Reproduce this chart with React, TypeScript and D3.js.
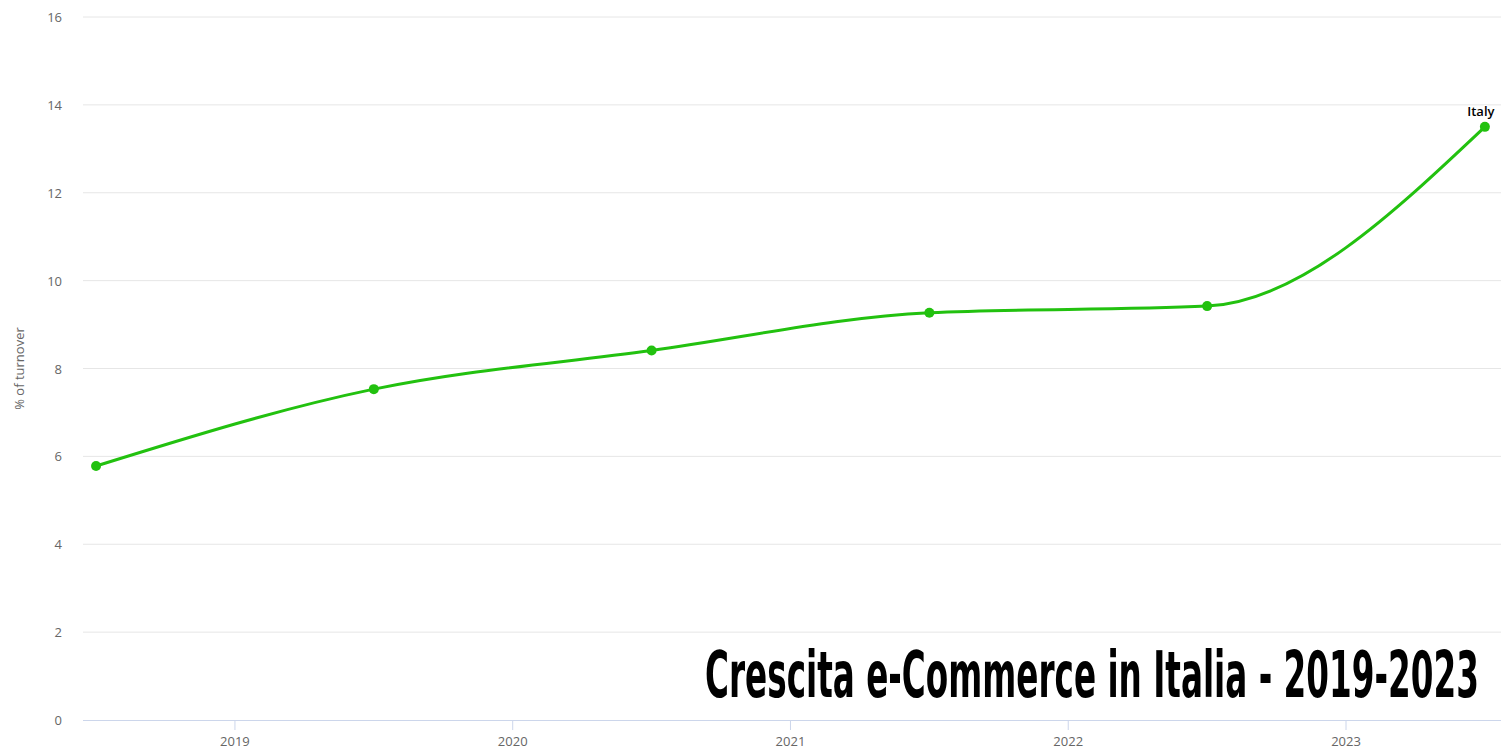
import React, { useLayoutEffect, useRef, useState } from "react";
import * as d3 from "d3";

const years = [2018.5, 2019.5, 2020.5, 2021.5, 2022.5, 2023.5];
const values = [5.78, 7.53, 8.41, 9.27, 9.42, 13.5];
const xTicks = [2019, 2020, 2021, 2022, 2023];
const yTicks = [0, 2, 4, 6, 8, 10, 12, 14, 16];
const seriesName = "Italy";
const title = "Crescita e-Commerce in Italia - 2019-2023";
const yTitle = "% of turnover";

export default function App() {
  const W = 1501, H = 749;
  const left = 83, right = 1501, top = 17, bottom = 720;
  const x = d3.scaleLinear().domain([2018.453, 2023.558]).range([left, right]);
  const y = d3.scaleLinear().domain([0, 16]).range([bottom, top]);
  const line = d3
    .line<number>()
    .x((_, i) => x(years[i]))
    .y((v) => y(v))
    .curve(d3.curveMonotoneX);
  const font = "'Open Sans', 'DejaVu Sans', sans-serif";
  const titleRef = useRef<SVGTextElement>(null);
  const [sx, setSx] = useState(1);
  const titleWidth = 774;
  useLayoutEffect(() => {
    if (titleRef.current) {
      const w = titleRef.current.getComputedTextLength();
      if (w > 0) setSx(titleWidth / w);
    }
  }, []);
  return (
    <svg width={W} height={H} style={{ position: "absolute", left: 0, top: 0, background: "#fff" }}>
      {yTicks.map((t) =>
        t === 0 ? null : (
          <line key={t} x1={left} x2={right} y1={y(t)} y2={y(t)} stroke="#e6e6e6" strokeWidth={1} />
        )
      )}
      {yTicks.map((t) => (
        <text key={"l" + t} x={62} y={y(t) + 5} textAnchor="end" fontSize={13} fill="#666" fontFamily={font}>
          {t}
        </text>
      ))}
      <line x1={left} x2={right} y1={bottom + 0.5} y2={bottom + 0.5} stroke="#ccd6eb" strokeWidth={1} />
      {xTicks.map((t) => (
        <g key={t}>
          <line x1={x(t)} x2={x(t)} y1={bottom} y2={bottom + 10} stroke="#ccd6eb" strokeWidth={1} />
          <text x={x(t)} y={746} textAnchor="middle" fontSize={13} fill="#666" fontFamily={font}>
            {t}
          </text>
        </g>
      ))}
      <text
        transform={`translate(24, ${(top + bottom) / 2}) rotate(-90)`}
        textAnchor="middle"
        fontSize={13}
        fill="#666"
        fontFamily={font}
      >
        {yTitle}
      </text>
      <path d={line(values) || ""} fill="none" stroke="#22c10f" strokeWidth={3} strokeLinejoin="round" strokeLinecap="round" />
      {values.map((v, i) => (
        <circle key={i} cx={x(years[i])} cy={y(v)} r={5} fill="#22c10f" />
      ))}
      <text
        x={x(years[years.length - 1]) - 4}
        y={y(values[values.length - 1]) - 11}
        textAnchor="middle"
        fontSize={13}
        fontWeight={600}
        fill="#000"
        stroke="#fff"
        strokeWidth={2}
        paintOrder="stroke"
        fontFamily={font}
      >
        {seriesName}
      </text>
      <g transform={`translate(705, 697) scale(${sx}, 1)`}>
        <text
          ref={titleRef}
          x={0}
          y={0}
          fontSize={64}
          fontWeight="bold"
          fill="#000"
          fontFamily="'Liberation Sans Narrow', 'DejaVu Sans Condensed', sans-serif"
        >
          {title}
        </text>
      </g>
    </svg>
  );
}
